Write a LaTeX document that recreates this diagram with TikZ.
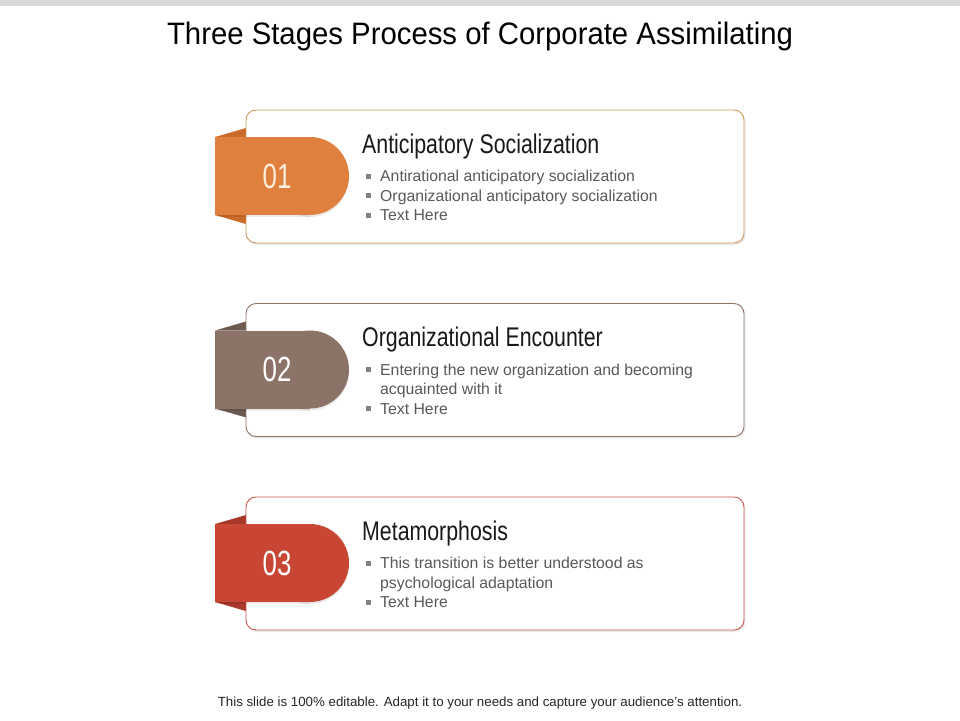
\documentclass[tikz,border=0pt]{standalone}
\usepackage{fontspec}
\setmainfont{Liberation Sans}
\newfontfamily\titlefont[FakeStretch=0.946]{Liberation Sans}
\newfontfamily\headfont[FakeStretch=0.79]{Liberation Sans}
\newfontfamily\numfont[FakeStretch=0.74]{Liberation Sans}
\definecolor{bargray}{HTML}{D9D9D9}
\definecolor{txtgray}{HTML}{595959}
\definecolor{bulgray}{HTML}{808080}
\definecolor{cOne}{HTML}{E0803F}
\definecolor{fOne}{HTML}{CC6A2A}
\definecolor{bOne}{HTML}{D0955A}
\definecolor{cTwo}{HTML}{8C7367}
\definecolor{fTwo}{HTML}{6F5A4F}
\definecolor{bTwo}{HTML}{8C7367}
\definecolor{cThree}{HTML}{C94534}
\definecolor{fThree}{HTML}{A8382A}
\definecolor{bThree}{HTML}{C9544A}
\definecolor{numOne}{HTML}{FDEEDC}
\tikzset{
  card/.style={rectangle, rounded corners=10pt, minimum width=498pt, minimum height=133pt, inner sep=0pt, fill=white, line width=0.9pt},
  cardshadow/.style={rectangle, rounded corners=10pt, minimum width=498pt, minimum height=133pt, inner sep=0pt, fill=black, opacity=0.08, draw=none},
  headtext/.style={anchor=base west, inner sep=0pt, font=\headfont\fontsize{27}{30}\selectfont, text=black!90},
  bultext/.style={anchor=base west, inner sep=0pt, font=\fontsize{15.8}{19}\selectfont, text=txtgray},
  bulmark/.style={rectangle, fill=bulgray, minimum size=5pt, inner sep=0pt},
  numtext/.style={inner sep=0pt, font=\numfont\fontsize{35}{38}\selectfont},
  titletext/.style={anchor=base, inner sep=0pt, font=\titlefont\fontsize{31}{34}\selectfont, text=black},
  foottext/.style={anchor=base, inner sep=0pt, font=\fontsize{13.3}{15}\selectfont, text=black!85},
}
\begin{document}
\begin{tikzpicture}[x=1pt,y=-1pt]
\useasboundingbox (0,0) rectangle (960,720);
\fill[bargray] (0,0) rectangle (960,6);
\node[titletext] (title) at (480,44) {Three Stages Process of Corporate Assimilating};

% ---------- stage 1 ----------
\begin{scope}
\fill[fOne] (215,137) -- (246,128) -- (246,137) -- cycle;
\fill[fOne] (215,215) -- (246,224) -- (246,215) -- cycle;
\node[cardshadow] (sh1) at (496.5,178.5) {};
\node[card, draw=bOne] (card1) at (495,176.5) {};
\fill[black, opacity=0.08] (215,139) rectangle (310,217);
\fill[black, opacity=0.08] (310,178) circle (39pt);
\fill[cOne] (215,137) rectangle (310,215);
\fill[cOne] (310,176) circle (39pt);
\node[numtext, text=numOne] (num1) at (277,176) {01};
\node[headtext] (head1) at (362,153) {Anticipatory Socialization};
\node[bulmark] (m11) at (368.5,176) {};
\node[bultext] (t11) at (380,181.5) {Antirational anticipatory socialization};
\node[bulmark] (m12) at (368.5,195.5) {};
\node[bultext] (t12) at (380,201) {Organizational anticipatory socialization};
\node[bulmark] (m13) at (368.5,215) {};
\node[bultext] (t13) at (380,220.5) {Text Here};
\end{scope}

% ---------- stage 2 ----------
\begin{scope}[shift={(0,193.5)}]
\fill[fTwo] (215,137) -- (246,128) -- (246,137) -- cycle;
\fill[fTwo] (215,215) -- (246,224) -- (246,215) -- cycle;
\node[cardshadow] (sh2) at (496.5,178.5) {};
\node[card, draw=bTwo] (card2) at (495,176.5) {};
\fill[black, opacity=0.08] (215,139) rectangle (310,217);
\fill[black, opacity=0.08] (310,178) circle (39pt);
\fill[cTwo] (215,137) rectangle (310,215);
\fill[cTwo] (310,176) circle (39pt);
\node[numtext, text=white] (num2) at (277,176) {02};
\node[headtext] (head2) at (362,153) {Organizational Encounter};
\node[bulmark] (m21) at (368.5,176) {};
\node[bultext] (t21) at (380,181.5) {Entering the new organization and becoming};
\node[bultext] (t22) at (380,201) {acquainted with it};
\node[bulmark] (m23) at (368.5,215) {};
\node[bultext] (t23) at (380,220.5) {Text Here};
\end{scope}

% ---------- stage 3 ----------
\begin{scope}[shift={(0,387)}]
\fill[fThree] (215,137) -- (246,128) -- (246,137) -- cycle;
\fill[fThree] (215,215) -- (246,224) -- (246,215) -- cycle;
\node[cardshadow] (sh3) at (496.5,178.5) {};
\node[card, draw=bThree] (card3) at (495,176.5) {};
\fill[black, opacity=0.08] (215,139) rectangle (310,217);
\fill[black, opacity=0.08] (310,178) circle (39pt);
\fill[cThree] (215,137) rectangle (310,215);
\fill[cThree] (310,176) circle (39pt);
\node[numtext, text=white] (num3) at (277,176) {03};
\node[headtext] (head3) at (362,153) {Metamorphosis};
\node[bulmark] (m31) at (368.5,176) {};
\node[bultext] (t31) at (380,181.5) {This transition is better understood as};
\node[bultext] (t32) at (380,201) {psychological adaptation};
\node[bulmark] (m33) at (368.5,215) {};
\node[bultext] (t33) at (380,220.5) {Text Here};
\end{scope}

\node[foottext] (foot) at (480,706) {This slide is 100\% editable. Adapt it to your needs and capture your audience's attention.};
\end{tikzpicture}
\end{document}
